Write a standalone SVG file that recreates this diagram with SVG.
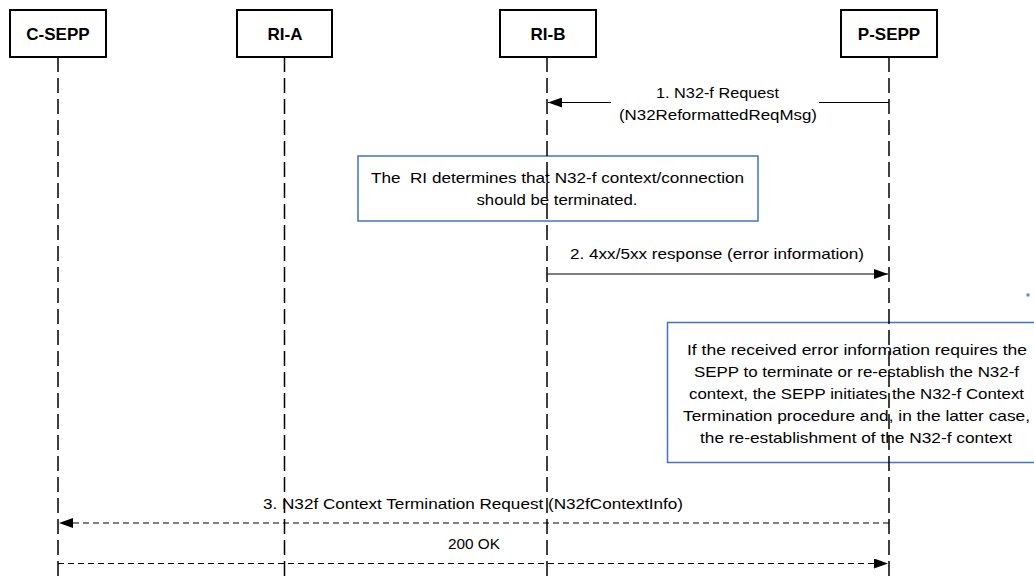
<svg xmlns="http://www.w3.org/2000/svg" width="1034" height="580" viewBox="0 0 1034 580">
<style>
.actor{fill:#fff;stroke:#000;stroke-width:2}
.title{font-family:"Liberation Sans",Arial,sans-serif;font-weight:bold;font-size:17px;fill:#000;text-anchor:middle}
.life{stroke:#000;stroke-width:1.5;stroke-dasharray:15,6;fill:none}
.note{fill:#fff;stroke:#4472C4;stroke-width:1.5}
.txt{font-family:"Liberation Sans",Arial,sans-serif;font-size:14.5px;fill:#000;text-anchor:middle}
.msg{stroke:#000;stroke-width:1.2;fill:none}
.dash{stroke-dasharray:6,4}
</style>
<defs>
<marker id="ah" viewBox="0 0 14 10" refX="14" refY="5" markerWidth="14" markerHeight="10" markerUnits="userSpaceOnUse" orient="auto">
<path d="M0,0 L14,5 L0,10 Z" fill="#000"/>
</marker>
</defs>
<rect width="1034" height="580" fill="#fff"/>

<g id="note-ri">
<rect class="note" x="358" y="156" width="400" height="65"/>
<text class="txt" x="557.5" y="183" textLength="373" lengthAdjust="spacingAndGlyphs" xml:space="preserve">The  RI determines that N32-f context/connection</text>
<text class="txt" x="557" y="205" textLength="161" lengthAdjust="spacingAndGlyphs">should be terminated.</text>
</g>
<g id="note-sepp">
<rect class="note" x="667.5" y="322.5" width="380" height="140"/>
<text class="txt" x="857" y="354.5" textLength="340" lengthAdjust="spacingAndGlyphs">If the received error information requires the</text>
<text class="txt" x="856.5" y="376.5" textLength="325" lengthAdjust="spacingAndGlyphs">SEPP to terminate or re-establish the N32-f</text>
<text class="txt" x="856.5" y="398.5" textLength="335" lengthAdjust="spacingAndGlyphs">context, the SEPP initiates the N32-f Context</text>
<text class="txt" x="856.5" y="420.5" textLength="347" lengthAdjust="spacingAndGlyphs">Termination procedure and, in the latter case,</text>
<text class="txt" x="856" y="442.5" textLength="312" lengthAdjust="spacingAndGlyphs">the re-establishment of the N32-f context</text>
</g>
<rect x="1026.5" y="293.5" width="3" height="3" fill="#5B8BD0"/>

<g id="C-SEPP">
<rect class="actor" x="10" y="10" width="96" height="47"/>
<text class="title" x="58" y="39.5">C-SEPP</text>
<line class="life" x1="58" y1="57" x2="58" y2="580"/>
</g>
<g id="RI-A">
<rect class="actor" x="237" y="10" width="95" height="47"/>
<text class="title" x="285" y="39.5">RI-A</text>
<line class="life" x1="284.5" y1="57" x2="284.5" y2="580"/>
</g>
<g id="RI-B">
<rect class="actor" x="500" y="10" width="96" height="47"/>
<text class="title" x="548" y="39.5">RI-B</text>
<line class="life" x1="547" y1="57" x2="547" y2="580"/>
</g>
<g id="P-SEPP">
<rect class="actor" x="841" y="10" width="96" height="47"/>
<text class="title" x="889" y="39.5">P-SEPP</text>
<line class="life" x1="889" y1="57" x2="889" y2="580"/>
</g>

<g id="connectors">
<line class="msg" x1="611" y1="102.5" x2="548" y2="102.5" marker-end="url(#ah)"/>
<line class="msg" x1="889" y1="102.5" x2="819" y2="102.5"/>
<text class="txt" x="717.5" y="98" textLength="123" lengthAdjust="spacingAndGlyphs">1. N32-f Request</text>
<text class="txt" x="718" y="120" textLength="198" lengthAdjust="spacingAndGlyphs">(N32ReformattedReqMsg)</text>

<line class="msg" x1="547" y1="274" x2="888" y2="274" marker-end="url(#ah)"/>
<text class="txt" x="717" y="259" textLength="294" lengthAdjust="spacingAndGlyphs">2. 4xx/5xx response (error information)</text>

<line class="msg dash" x1="889" y1="523" x2="59" y2="523" marker-end="url(#ah)"/>
<text class="txt" x="473" y="509" textLength="420" lengthAdjust="spacingAndGlyphs">3. N32f Context Termination Request (N32fContextInfo)</text>

<line class="msg dash" x1="58" y1="563.5" x2="888" y2="563.5" marker-end="url(#ah)"/>
<text class="txt" x="474" y="549" textLength="52" lengthAdjust="spacingAndGlyphs">200 OK</text>
</g>
</svg>
